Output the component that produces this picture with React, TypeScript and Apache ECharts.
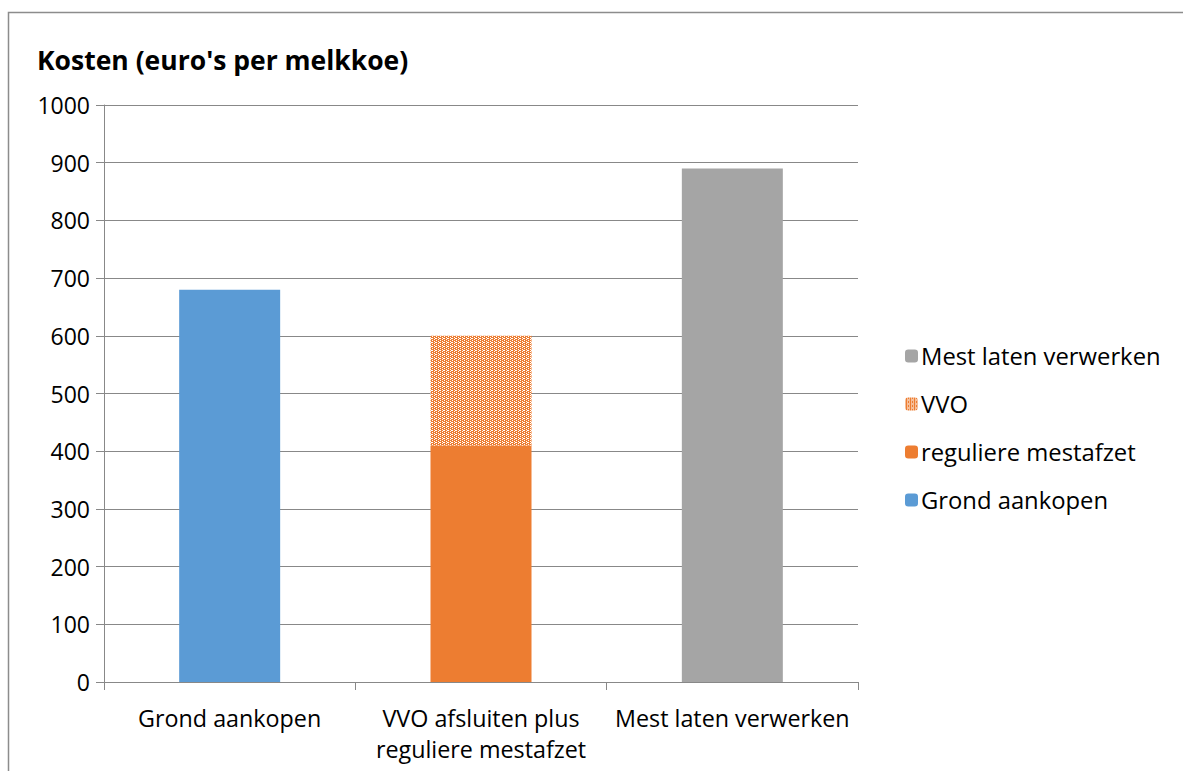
import React, { useEffect, useRef } from "react";
import * as echarts from "echarts";

const categories = ["Grond aankopen", "VVO afsluiten plus\nreguliere mestafzet", "Mest laten verwerken"];
const grondAankopen = [680, "-", "-"];
const reguliereMestafzet = ["-", 410, "-"];
const vvo = ["-", 190, "-"];
const mestLatenVerwerken = ["-", "-", 890];
const legendOrder = ["Mest laten verwerken", "VVO", "reguliere mestafzet", "Grond aankopen"];
const titleText = "Kosten (euro's per melkkoe)";

const FONT = "'Open Sans', 'Noto Sans', sans-serif";

function makePattern() {
  const c = document.createElement("canvas");
  c.width = 4;
  c.height = 4;
  const ctx = c.getContext("2d")!;
  ctx.fillStyle = "#ED7D31";
  ctx.fillRect(0, 0, 4, 4);
  ctx.fillStyle = "#ffffff";
  const white = [
    [0, 0], [2, 1], [0, 2], [2, 3], [3, 2],
  ];
  white.forEach(([x, y]) => ctx.fillRect(x, y, 1, 1));
  return c;
}

export default function App() {
  const ref = useRef<HTMLDivElement>(null);
  useEffect(() => {
    document.body.style.margin = "0";
    const chart = echarts.init(ref.current!, null, { renderer: "svg" });
    const pattern = makePattern();
    const barW = 101;
    chart.setOption({
      animation: false,
      backgroundColor: "#ffffff",
      title: {
        text: titleText,
        left: 32,
        top: 41,
        textStyle: { fontFamily: FONT, fontSize: 26.5, fontWeight: "bold", color: "#000" },
      },
      graphic: [
        {
          type: "polyline",
          shape: { points: [[8.5, 771], [8.5, 12.5], [1183, 12.5]] },
          style: { stroke: "#8c8c8c", lineWidth: 1.5, fill: "none" },
          silent: true,
        },
      ],
      grid: { left: 104, right: 325, top: 105, bottom: 89, containLabel: false },
      legend: {
        orient: "vertical",
        left: 900,
        top: 339,
        itemWidth: 13,
        itemHeight: 13,
        itemGap: 24,
        data: legendOrder,
        textStyle: { fontFamily: FONT, fontSize: 23.8, color: "#000", padding: [0, 0, 0, -2] },
      },
      xAxis: {
        type: "category",
        data: categories,
        axisLine: { lineStyle: { color: "#888", width: 1 } },
        axisTick: { show: true, length: 8, lineStyle: { color: "#888" } },
        axisLabel: { interval: 0, fontFamily: FONT, fontSize: 23.3, color: "#000", margin: 20, lineHeight: 31 },
      },
      yAxis: {
        type: "value",
        min: 0,
        max: 1000,
        interval: 100,
        axisLine: { show: true, lineStyle: { color: "#888", width: 1 } },
        axisTick: { show: true, length: 8, lineStyle: { color: "#888" } },
        splitLine: { lineStyle: { color: "#888", width: 1 } },
        axisLabel: { fontFamily: FONT, fontSize: 23, color: "#000", margin: 14, formatter: (v: number) => String(v) },
      },
      series: [
        { name: "Grond aankopen", type: "bar", stack: "a", barWidth: barW, data: grondAankopen, itemStyle: { color: "#5B9BD5" } },
        { name: "reguliere mestafzet", type: "bar", stack: "a", barWidth: barW, data: reguliereMestafzet, itemStyle: { color: "#ED7D31" } },
        { name: "VVO", type: "bar", stack: "a", barWidth: barW, data: vvo, itemStyle: { color: { image: pattern, repeat: "repeat" } } },
        { name: "Mest laten verwerken", type: "bar", stack: "a", barWidth: barW, data: mestLatenVerwerken, itemStyle: { color: "#A5A5A5" } },
      ],
    });
    return () => chart.dispose();
  }, []);
  return <div ref={ref} style={{ width: 1183, height: 771 }} />;
}
